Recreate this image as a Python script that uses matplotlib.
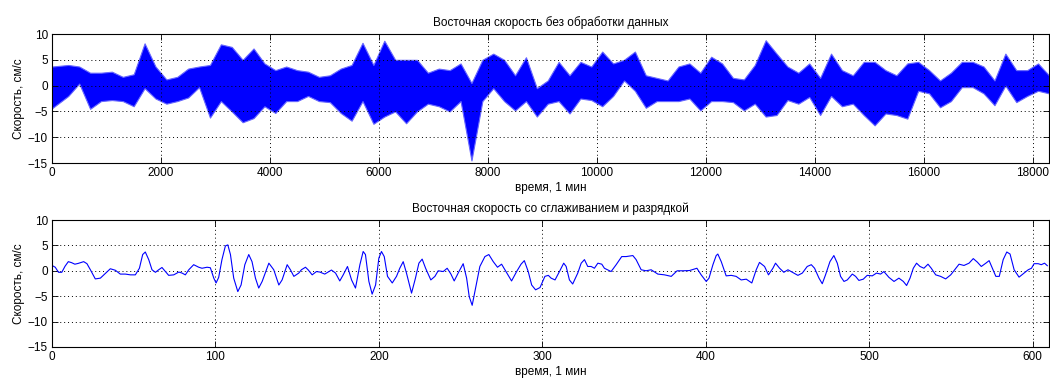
import matplotlib
matplotlib.use("Agg")
import matplotlib.pyplot as plt
import numpy as np

plt.rcParams['font.family'] = ['Liberation Sans', 'DejaVu Sans']
plt.rcParams['font.size'] = 8.5

# raw series, read as a band (low / high) every ~200 samples
top_time = [0] + list(range(300, 18101, 200)) + [18300]
top_lo = [-4.4, -2, 0.4, -4.5, -3.0, -2.8, -3.0, -4, -0.5, -2.5,
          -3.5, -3.0, -2.3, -0.3, -6.2, -3, -5, -7.1, -6.3, -4,
          -5.3, -3, -3, -2, -3, -3.2, -5.3, -6.8, -3, -7.4,
          -6, -5, -7.3, -5, -3.5, -4, -5, -3, -14.5, -3,
          -0.5, -3, -4.8, -3, -6, -3.5, -3, -5.4, -2.5, -2.8,
          -4, -2, 1, -1, -4.3, -3, -3, -3, -2.5, -4.8,
          -3, -3, -3.2, -4.8, -3.5, -6, -5.7, -2.8, -3.5, -2.2,
          -5.7, -2, -4, -3.5, -5.7, -7.7, -5.4, -5.7, -6.4, -1,
          -1.5, -4.2, -3, -0.3, -0.3, -1.5, -3.8, 0, -3.2, -2,
          -1, -1.5]
top_hi = [3.7, 4, 3.7, 2.5, 2.5, 2.7, 1.7, 2.2, 8.2, 3.7,
          1.2, 1.7, 3.3, 3.7, 4, 8, 7.5, 5, 7.2, 4.3,
          3, 3.7, 3, 2.7, 1.7, 2, 3.3, 4, 8.3, 4,
          8.7, 5, 5, 5, 2.5, 3.3, 3, 4.3, 0.5, 5,
          6.2, 5, 2, 5.5, -0.5, 1, 4.6, 2, 4.6, 3.7,
          6.6, 4.3, 5, 6.6, 2, 1.5, 1, 3.7, 4.3, 2.5,
          5.6, 4.3, 1.5, 1.2, 4, 8.8, 6.2, 3.7, 2.5, 4.3,
          1.5, 6.2, 3, 2, 4.6, 4.6, 3, 2, 4.3, 4.6,
          3, 1, 2.5, 4.6, 4.6, 3.7, 1, 6.2, 3, 3,
          4.3, 2]

# smoothed and decimated series
bot_t = [0, 2, 4, 6, 8, 10, 12, 14, 16, 19.4, 21.4, 23.5, 26.5, 29.6, 32.7,
         35.7, 38.8, 41.8, 44.9, 48, 51, 53.5, 55.5, 57.1, 59.2, 61.2, 63.3,
         65.3, 67.3, 69.4, 71.4, 74.5, 77.6, 79.6, 81.6, 83.7, 86.7, 89.8,
         91.8, 94.9, 96.9, 99, 100.4, 102, 104, 106.1, 107.6, 109.2, 111.2,
         113.7, 115.7, 118, 120.4, 122.4, 124.5, 126.5, 128.6, 132.7, 135.7,
         138.8, 140.8, 143.9, 145.9, 148, 151, 152.6, 155.1, 156.7, 159.2,
         161.8, 163.9, 166.9, 171, 173.5, 176.1, 178.2, 180.8, 183.3, 185.7,
         188.4, 190.4, 191.8, 193.9, 195.9, 198, 200, 201.6, 203.3, 205.3,
         208.2, 210.8, 212.8, 214.9, 216.9, 220, 222.4, 224.5, 226.5, 228.6,
         231.8, 234.3, 236.3, 239.4, 241.8, 244.1, 246.1, 249, 251.6, 253.7,
         255.3, 257.1, 259.2, 261.8, 264.9, 267.3, 270, 272.6, 275.1, 277.5,
         281.2, 284.3, 287, 289, 291.4, 293.5, 295.9, 298.6, 301.6, 303.7,
         305.4, 307.8, 310.5, 313.1, 314.6, 316.6, 318.6, 321.7, 323.8,
         325.8, 327.8, 329.9, 331.9, 334, 336.4, 338, 342.1, 345.2, 348.6,
         351.3, 355.4, 357.4, 360.5, 363.5, 366.6, 370.7, 374.8, 378.9,
         382.5, 386, 390.1, 394.6, 397.2, 400.3, 402, 404.4, 406.4, 407.4,
         409.5, 412.5, 415.6, 418.6, 421.7, 424.8, 428.2, 430.9, 432.9, 436,
         438.4, 441.1, 442.7, 445.2, 447.8, 450.3, 453.9, 456.4, 459.1,
         462.1, 464.6, 466.6, 469.3, 471.3, 473.3, 476, 478.4, 480.5, 482.5,
         484.6, 486.6, 489.7, 491.7, 493.7, 496.4, 498.8, 501.9, 504.5, 507,
         509, 512.1, 515.2, 518.2, 520.9, 522.9, 525, 527, 529, 531.1, 533.5,
         536, 538, 540.7, 543.7, 546.8, 549.9, 552.3, 555, 558, 561.1, 563.7,
         566.2, 568.6, 571.4, 573.4, 575.4, 577.5, 579.6, 582, 584.2, 586.2,
         588.7, 591.7, 594.8, 597.3, 599.3, 600.9, 603.4, 605.3, 607.3, 609]
bot_v = [1.05, 0.7, -0.3, -0.3, 0.9, 1.8, 1.6, 1.3, 1.45, 1.8, 1.4, 0.2, -1.6,
         -1.45, -0.5, 0.4, 0.1, -0.65, -0.65, -0.8, -0.8, 0.5, 3.2, 3.7, 2.2,
         0.2, -0.3, 0.2, 0.65, -0.15, -0.9, -0.8, -0.25, -0.45, -0.8, 0.2,
         1.2, 0.7, 0.5, 0.7, 0.6, -1.45, -2.4, -1.3, 2.2, 4.9, 5.1, 3.2,
         -1.45, -4.1, -2.8, 1.2, 3.2, 1.8, -1.45, -3.4, -2.1, 1.5, 0.2, -2.8,
         -1.8, 1.2, 0.2, -1.1, -0.45, 0.2, 0.7, 0.2, -0.8, -0.15, -0.25,
         -0.65, 0.15, -0.45, -2.0, -0.8, 0.85, -1.8, -3.4, 1.2, 3.8, 3.2,
         -2.1, -4.6, -2.8, 2.5, 3.8, 2.8, -1.1, -2.4, -1.1, 0.5, 1.8, -0.45,
         -4.4, -1.45, 1.5, 2.3, 0.5, -1.8, -1.1, 0, -0.15, 0.5, -0.65, -2.0,
         -0.15, 1.4, -1.45, -5.1, -6.8, -3.4, 0.85, 2.8, 3.2, 1.8, 0.7, 1.3,
         0, -2.0, -0.15, 1.3, 2.0, -0.15, -2.8, -3.75, -3.3, -1.1, -0.9,
         -1.45, -1.8, -0.15, 1.5, 0.85, -1.8, -2.6, -0.45, 1.5, 2.2, 0.85,
         0.85, 0.5, 1.5, 1.3, 0.5, -0.15, 1.2, 2.8, 2.8, 3.0, 2.2, 0.2, 0,
         0.2, -0.65, -0.8, -1.1, 0, 0, 0.05, 0.5, -0.8, -2.1, -1.45, 1.2, 3.0,
         3.3, 1.8, -1.0, -0.9, -1.1, -1.8, -1.65, -2.4, 0.2, 1.65, 0.85,
         -0.8, 0.5, 1.5, 0.5, -0.3, 0.2, -0.45, -0.9, -0.45, 0.85, 1.2, 0.5,
         -1.45, -2.55, -0.8, 1.8, 3.0, 1.5, -1.1, -2.1, -1.8, -0.65, -1.1,
         -1.9, -1.65, -0.9, -1.0, -0.45, -0.65, -0.15, -1.3, -2.1, -1.45,
         -2.1, -2.9, -1.45, 0.5, 1.5, 0.85, 0.5, 1.3, 0.5, -0.8, -1.1, -1.6,
         -0.8, 0.2, 1.3, 1.05, 1.5, 2.4, 1.7, 0.85, 1.5, 2.0, 0.5, -1.1,
         -1.1, 2.2, 3.7, 3.3, 0.2, -1.25, -0.45, 0.2, 0.5, 1.4, 1.4, 1.2,
         1.5, 1.0]

yticks = [-15, -10, -5, 0, 5, 10]
ylab = "Скорость, см/с"
xlab = "время, 1 мин"

fig = plt.figure(figsize=(10.5, 3.8), dpi=100)
ax1 = fig.add_axes([0.0495, 0.571, 0.9495, 0.3395])
ax2 = fig.add_axes([0.0495, 0.087, 0.9495, 0.334])

ax1.fill_between(top_time, top_lo, top_hi, facecolor='#0000ff',
                 edgecolor='#6666ff', linewidth=0.8)
ax1.set_xlim(0, 18300)
ax1.set_xticks(range(0, 18001, 2000))
ax1.set_title("Восточная скорость без обработки данных", fontsize=8.5, pad=6)

ax2.plot(bot_t, bot_v, color='#0000ff', linewidth=0.8)
ax2.set_xlim(0, 610)
ax2.set_xticks(range(0, 601, 100))
ax2.set_title("Восточная скорость со сглаживанием и разрядкой", fontsize=8.5, pad=6)

for ax in (ax1, ax2):
    ax.set_ylim(-15, 10)
    ax.set_yticks(yticks)
    ax.set_ylabel(ylab, labelpad=2)
    ax.set_xlabel(xlab, labelpad=2)
    ax.grid(True, color='black', linestyle=(0, (1, 3)), linewidth=0.7)
    ax.tick_params(direction='in', top=True, right=True, length=4, width=0.6, pad=3)
    for s in ax.spines.values():
        s.set_linewidth(0.8)

fig.savefig("out.png", dpi=100)
